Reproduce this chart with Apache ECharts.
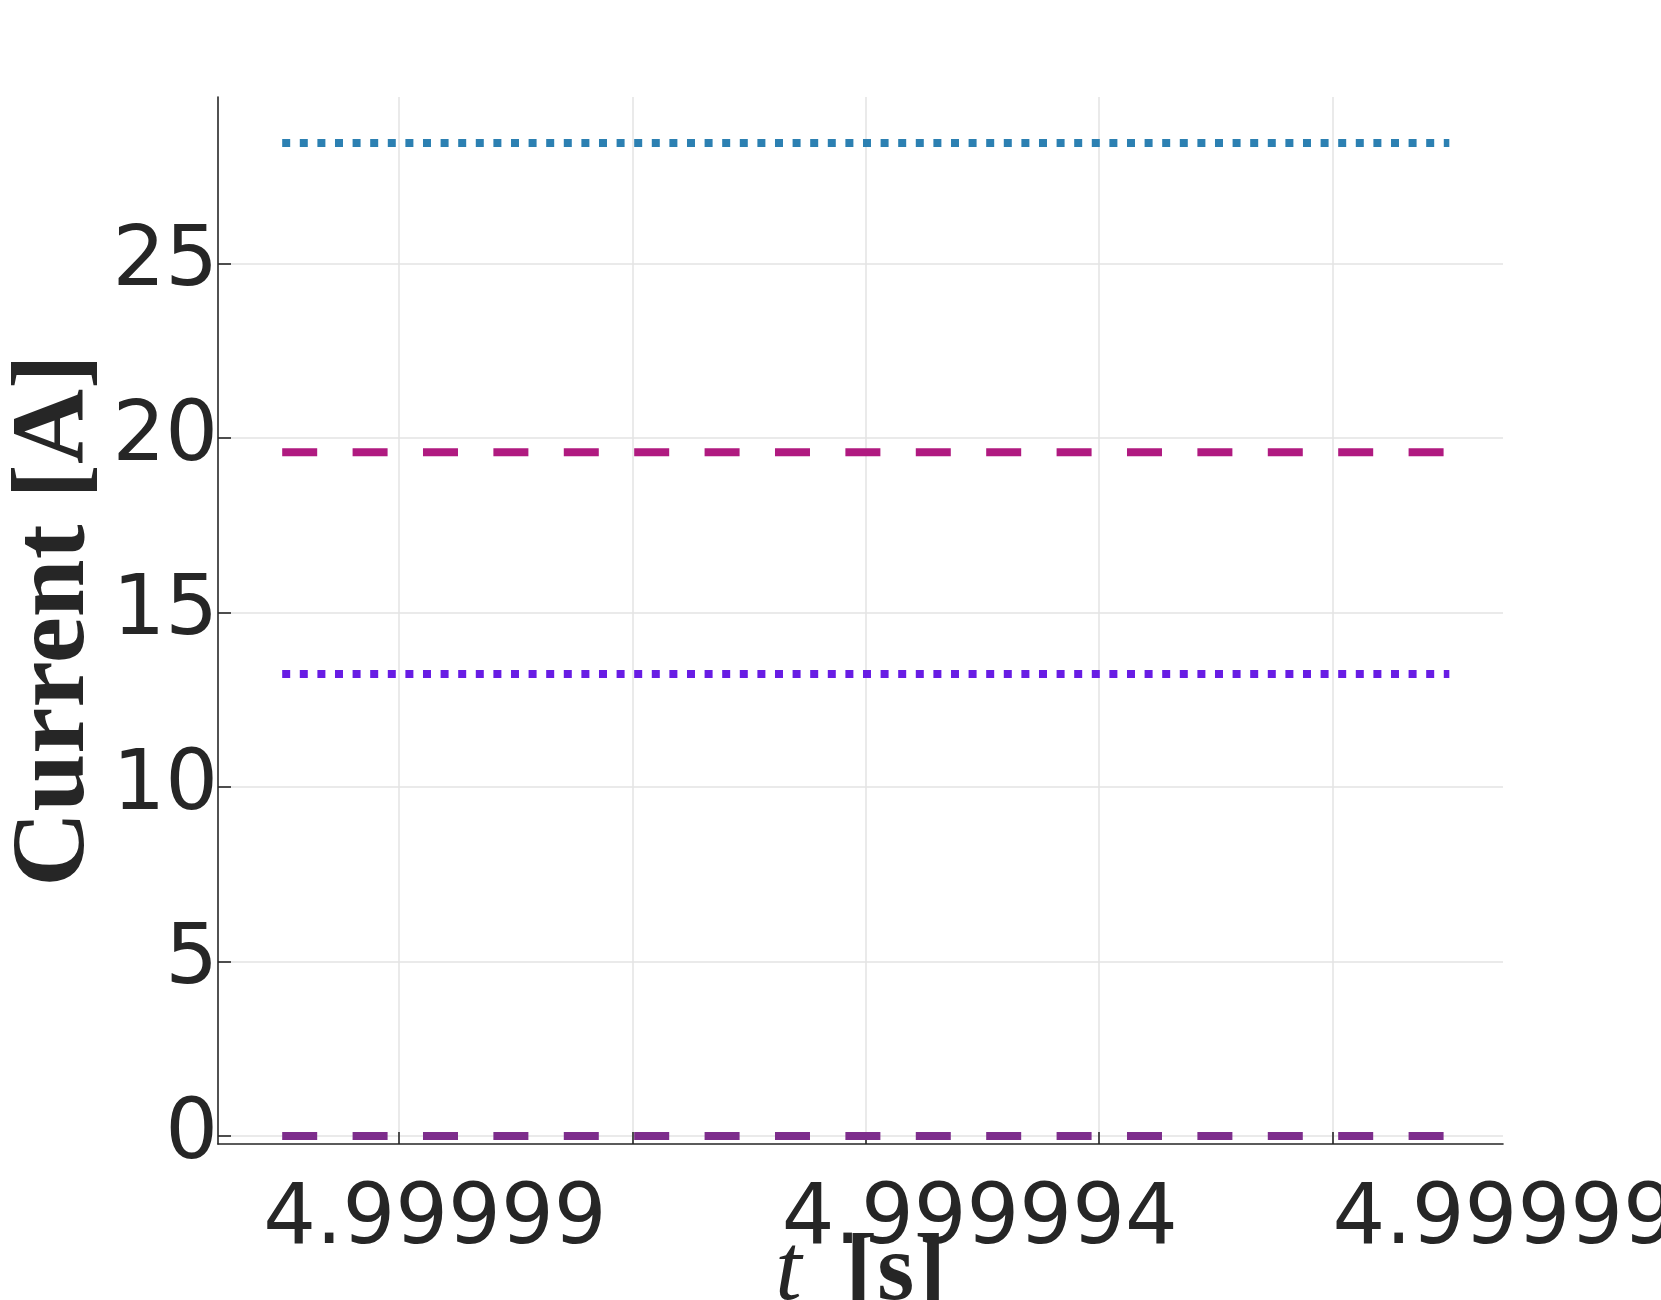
<!DOCTYPE html>
<html><head><meta charset="utf-8">
<script src="https://cdn.jsdelivr.net/npm/echarts@6/dist/echarts.min.js"></script>
<style>html,body{margin:0;padding:0;background:#fff}#c{width:1661px;height:1300px}</style>
</head><body><div id="c"></div>
<script>
// time samples [s]
const timeSec = [4.999989, 4.999999];
// series values [A]
const blueDotted = [28.45, 28.45];
const magentaDashed = [19.59, 19.59];
const violetDotted = [13.24, 13.24];
const purpleDashed = [0, 0];
// ticks
const xTickValues = [4.99999, 4.999992, 4.999994, 4.999996, 4.999998];
const xLabelValues = [4.99999, 4.999994, 4.999998];
const xLabelTexts = ['4.99999', '4.999994', '4.999998'];
const yTickValues = [0, 5, 10, 15, 20, 25];

const TXT = '#262626';
const pair = (vals) => timeSec.map((t, i) => [t, vals[i]]);

function lineSeries(name, vals, color, dash) {
  return {
    name, type: 'line', data: pair(vals), showSymbol: false, symbol: 'none',
    animation: false, silent: true,
    lineStyle: { color, width: 8, type: dash, cap: 'butt' }
  };
}

const chart = echarts.init(document.getElementById('c'), null, { renderer: 'canvas' });
const labelRich = {};
const shifts = [72, 228, 396];
shifts.forEach((p, i) => {
  labelRich['s' + i] = { fontFamily: 'DejaVu Sans', fontSize: 83, color: TXT, padding: [0, 0, 0, p] };
});

chart.setOption({
  animation: false,
  backgroundColor: '#ffffff',
  grid: { left: 218, right: 158, top: 97, bottom: 156, containLabel: false, outerBoundsMode: 'none' },
  xAxis: {
    type: 'value', min: 4.99998845, max: 4.99999946,
    axisLine: { show: true, onZero: false, lineStyle: { color: TXT, width: 1.6 } },
    axisTick: { show: true, inside: true, length: 12, customValues: xTickValues, lineStyle: { color: TXT, width: 1.6 } },
    splitLine: { show: true, lineStyle: { color: '#e3e3e3', width: 1.5 } },
    axisLabel: {
      customValues: xLabelValues, margin: 36,
      fontFamily: 'DejaVu Sans', fontSize: 83, color: TXT,
      formatter: function (v) {
        let idx = 0, best = Infinity;
        xLabelValues.forEach((x, i) => { const d = Math.abs(x - v); if (d < best) { best = d; idx = i; } });
        return '{s' + idx + '|' + xLabelTexts[idx] + '}';
      },
      rich: labelRich
    },
    name: '{i|t}{b|[s]}', nameLocation: 'middle', nameGap: 83, nameMoveOverlap: false,
    nameTextStyle: {
      rich: {
        i: { fontFamily: 'Liberation Serif', fontStyle: 'italic', fontSize: 95, color: TXT },
        b: { fontFamily: 'Liberation Serif', fontWeight: 'bold', fontSize: 95, color: TXT, padding: [0, 0, 0, 44] }
      }
    }
  },
  yAxis: {
    type: 'value', min: -0.23, max: 29.77,
    axisLine: { show: true, onZero: false, lineStyle: { color: TXT, width: 1.6 } },
    axisTick: { show: true, inside: true, length: 13, customValues: yTickValues, lineStyle: { color: TXT, width: 1.6 } },
    splitLine: { show: true, lineStyle: { color: '#e3e3e3', width: 1.5 } },
    axisLabel: { customValues: yTickValues, margin: 0, fontFamily: 'DejaVu Sans', fontSize: 83, color: TXT },
    name: 'Current [A]', nameLocation: 'middle', nameGap: 110, nameRotate: 90, nameMoveOverlap: false,
    nameTextStyle: { fontFamily: 'Liberation Serif', fontWeight: 'bold', fontSize: 104, color: TXT }
  },
  series: [
    lineSeries('i1', blueDotted, '#2c80b2', [8, 9.6]),
    lineSeries('i2', magentaDashed, '#b01a80', [35, 35.4]),
    lineSeries('i3', violetDotted, '#681ce4', [8, 9.6]),
    lineSeries('i4', purpleDashed, '#7d2d8c', [35, 35.4])
  ]
});
</script>
</body></html>
